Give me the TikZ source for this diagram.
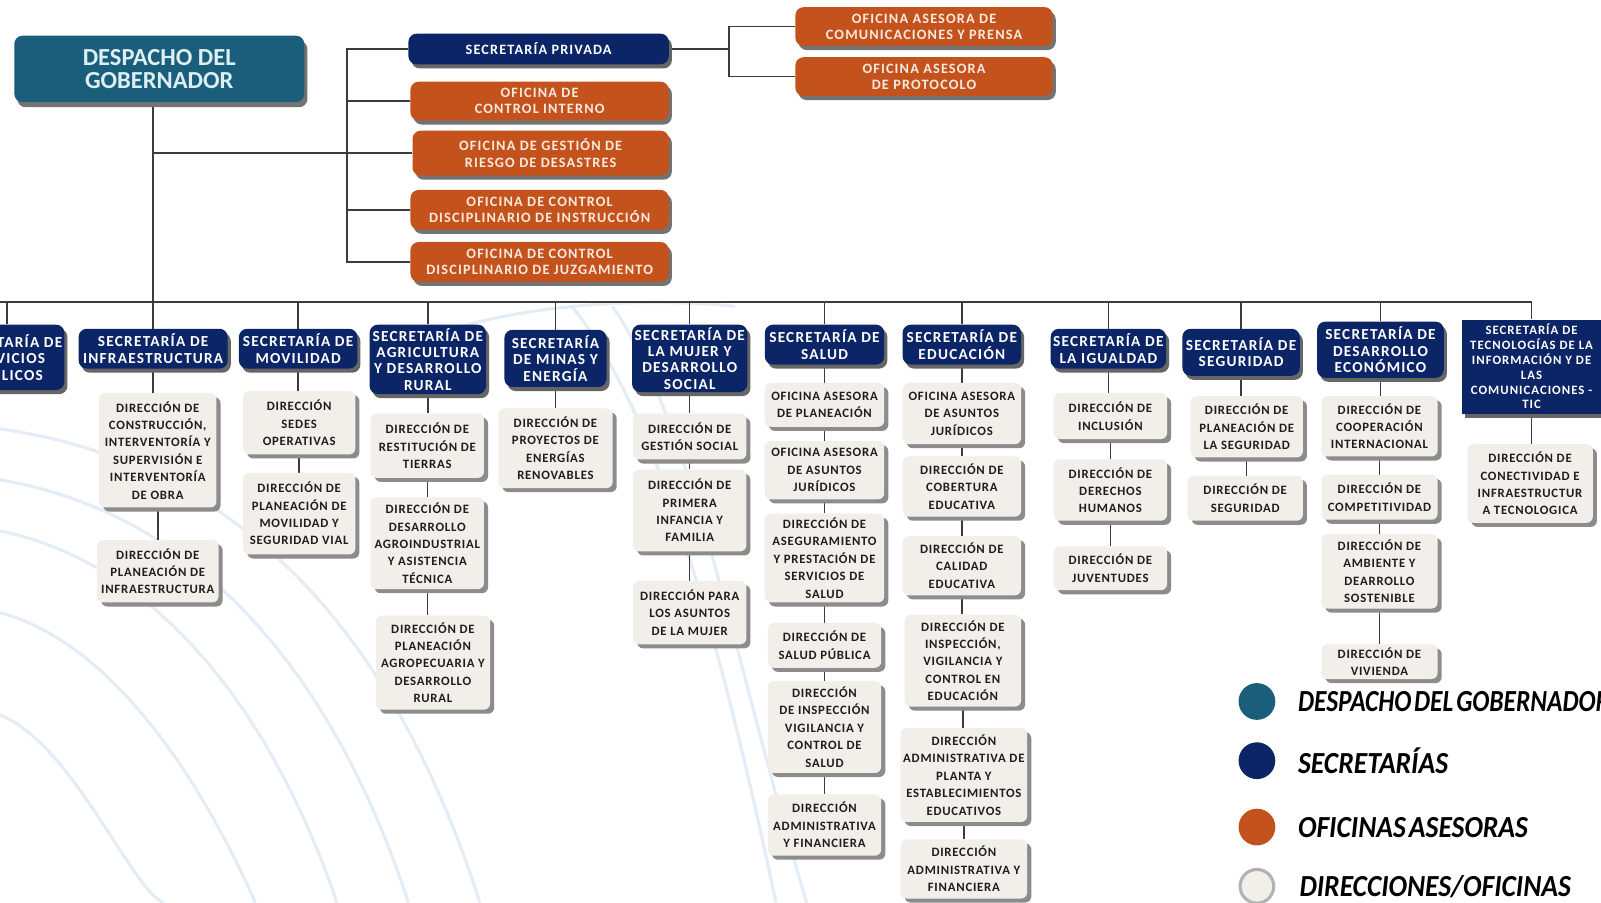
\documentclass[tikz,border=0pt]{standalone}
\usepackage{fontspec}
\setmainfont{Carlito}
\newfontfamily\boxfont{Carlito}[LetterSpace=8]
\newfontfamily\dirfont{Carlito}[LetterSpace=6]
\newfontfamily\legfont{Carlito}[FakeStretch=0.9,WordSpace=0.5]
\newfontfamily\legfontn{Carlito}[FakeStretch=0.83,WordSpace=0.5]
\usetikzlibrary{positioning,shadows,backgrounds}
\definecolor{despcol}{HTML}{1B5E7C}
\definecolor{desptext}{HTML}{DCEFF2}
\definecolor{seccol}{HTML}{0C2567}
\definecolor{oficol}{HTML}{C4521C}
\definecolor{ofitext}{HTML}{FBEADF}
\definecolor{dircol}{HTML}{F2EFEA}
\definecolor{dirtext}{HTML}{1E1E1E}
\definecolor{linecol}{HTML}{3C3C3C}
\definecolor{swirl}{HTML}{E4ECF5}
\begin{document}
\begin{tikzpicture}[x=1pt,y=-1pt,
  conn/.style={draw=linecol,line width=1.5pt},
  wh/.style 2 args={minimum width=#1pt,minimum height=#2pt},
  box/.style={rounded corners=6pt,align=center,inner sep=2pt},
  desp/.style={box,rounded corners=8pt,fill=despcol,text=desptext,
    font=\bfseries\fontsize{24}{22}\selectfont,
    drop shadow={shadow xshift=3pt,shadow yshift=-5pt,fill=black!55,opacity=1}},
  sec/.style={box,rounded corners=8pt,fill=seccol,text=white,
    font=\boxfont\bfseries\fontsize{15}{16}\selectfont,
    drop shadow={shadow xshift=3pt,shadow yshift=-4pt,fill=black!60,opacity=1}},
  ofi/.style={box,rounded corners=8pt,fill=oficol,text=ofitext,
    drop shadow={shadow xshift=3pt,shadow yshift=-4pt,fill=black!55,opacity=1}},
  topfont/.style={font=\boxfont\bfseries\fontsize{14}{16}\selectfont},
  dir/.style={box,fill=dircol,text=dirtext,
    font=\dirfont\bfseries\fontsize{12.5}{17}\selectfont,
    drop shadow={shadow xshift=4pt,shadow yshift=-4pt,fill=black!45,opacity=1}},
  legdot/.style={circle,minimum size=36pt,inner sep=0pt},
  legtext/.style={inner sep=0pt,anchor=west,text=black,
    font=\legfont\bfseries\itshape\fontsize{30}{30}\selectfont}]
\useasboundingbox (0,0) rectangle (1568,884);
\clip (0,0) rectangle (1568,884);

% despacho y oficinas
\node[desp,wh={284}{65}] (desp) at (156,67.5) {DESPACHO DEL\\GOBERNADOR};
\node[sec,topfont,wh={255}{30}] (spriv) at (527.5,48) {SECRETARÍA PRIVADA};
\node[ofi,topfont,wh={253}{38}] (cint) at (528.5,99) {OFICINA DE\\CONTROL INTERNO};
\node[ofi,topfont,wh={251}{44}] (gries) at (529.5,150) {OFICINA DE GESTIÓN DE\\RIESGO DE DESASTRES};
\node[ofi,topfont,wh={253}{39}] (dins) at (528.5,205.5) {OFICINA DE CONTROL\\DISCIPLINARIO DE INSTRUCCIÓN};
\node[ofi,topfont,wh={253}{39}] (djuz) at (528.5,256.5) {OFICINA DE CONTROL\\DISCIPLINARIO DE JUZGAMIENTO};
\node[ofi,topfont,wh={252}{38}] (cpren) at (905,26) {OFICINA ASESORA DE\\COMUNICACIONES Y PRENSA};
\node[ofi,topfont,wh={252}{38}] (proto) at (905,75) {OFICINA ASESORA\\DE PROTOCOLO};
\coordinate (brkL) at (340,0);
\coordinate (brkR) at (714,0);
\coordinate (busL) at (0,296);
\coordinate (busR) at (1500,296);

% secretarias
\node[sec,wh={112}{64}] (sps) at (7,350) {SECRETARÍA DE\\SERVICIOS\\PÚBLICOS};
\node[sec,wh={146}{39}] (inf) at (150,341.5) {SECRETARÍA DE\\INFRAESTRUCTURA};
\node[sec,wh={116}{39}] (mov) at (292,341.5) {SECRETARÍA DE\\MOVILIDAD};
\node[sec,wh={114}{68}] (agr) at (419,352) {SECRETARÍA DE\\AGRICULTURA\\Y DESARROLLO\\RURAL};
\node[sec,wh={100}{56}] (min) at (544,351) {SECRETARÍA\\DE MINAS Y\\ENERGÍA};
\node[sec,wh={113}{66}] (muj) at (675.5,351) {SECRETARÍA DE\\LA MUJER Y\\DESARROLLO\\SOCIAL};
\node[sec,wh={117}{39}] (sal) at (807.5,337.5) {SECRETARÍA DE\\SALUD};
\node[sec,wh={116}{39}] (edu) at (942,337.5) {SECRETARÍA DE\\EDUCACIÓN};
\node[sec,wh={113}{39}] (igu) at (1085.5,341.5) {SECRETARÍA DE\\LA IGUALDAD};
\node[sec,wh={115}{46}] (seg) at (1215.5,345) {SECRETARÍA DE\\SEGURIDAD};
\node[sec,wh={124}{55}] (eco) at (1352,342.5) {SECRETARÍA DE\\DESARROLLO\\ECONÓMICO};
\node[sec,sharp corners,wh={136}{92},font=\boxfont\bfseries\fontsize{12.5}{14.5}\selectfont] (tic) at (1500,359)
  {SECRETARÍA DE\\TECNOLOGÍAS DE LA\\INFORMACIÓN Y DE\\LAS\\COMUNICACIONES -\\TIC};

% direcciones
\node[dir,wh={115}{112}] (inf1) at (154.5,441) {DIRECCIÓN DE\\CONSTRUCCIÓN,\\INTERVENTORÍA Y\\SUPERVISIÓN E\\INTERVENTORÍA\\DE OBRA};
\node[dir,wh={119}{61}] (inf2) at (154.5,559.5) {DIRECCIÓN DE\\PLANEACIÓN DE\\INFRAESTRUCTURA};
\node[dir,wh={110}{62}] (mov1) at (293,414) {DIRECCIÓN\\SEDES\\OPERATIVAS};
\node[dir,wh={110}{80}] (mov2) at (293,503) {DIRECCIÓN DE\\PLANEACIÓN DE\\MOVILIDAD Y\\SEGURIDAD VIAL};
\node[dir,wh={111}{63}] (agr1) at (418.5,436.5) {DIRECCIÓN DE\\RESTITUCIÓN DE\\TIERRAS};
\node[dir,wh={111}{90}] (agr2) at (418.5,532) {DIRECCIÓN DE\\DESARROLLO\\AGROINDUSTRIAL\\Y ASISTENCIA\\TÉCNICA};
\node[dir,wh={112}{92}] (agr3) at (424,649) {DIRECCIÓN DE\\PLANEACIÓN\\AGROPECUARIA Y\\DESARROLLO\\RURAL};
\node[dir,wh={112}{78}] (min1) at (544,439) {DIRECCIÓN DE\\PROYECTOS DE\\ENERGÍAS\\RENOVABLES};
\node[dir,wh={111}{45}] (muj1) at (675.5,427.5) {DIRECCIÓN DE\\GESTIÓN SOCIAL};
\node[dir,wh={111}{80}] (muj2) at (675.5,500) {DIRECCIÓN DE\\PRIMERA\\INFANCIA Y\\FAMILIA};
\node[dir,wh={111}{62}] (muj3) at (675.5,600) {DIRECCIÓN PARA\\LOS ASUNTOS\\DE LA MUJER};
\node[dir,wh={117}{43}] (sal1) at (807.5,396.5) {OFICINA ASESORA\\DE PLANEACIÓN};
\node[dir,wh={117}{57}] (sal2) at (807.5,460.5) {OFICINA ASESORA\\DE ASUNTOS\\JURÍDICOS};
\node[dir,wh={117}{87}] (sal3) at (807.5,546.5) {DIRECCIÓN DE\\ASEGURAMIENTO\\Y PRESTACIÓN DE\\SERVICIOS DE\\SALUD};
\node[dir,wh={111}{44}] (sal4) at (807.5,632) {DIRECCIÓN DE\\SALUD PÚBLICA};
\node[dir,wh={111}{90}] (sal5) at (807.5,712) {DIRECCIÓN\\DE INSPECCIÓN\\VIGILANCIA Y\\CONTROL DE\\SALUD};
\node[dir,wh={111}{60}] (sal6) at (807.5,808) {DIRECCIÓN\\ADMINISTRATIVA\\Y FINANCIERA};
\node[dir,wh={116}{60}] (edu1) at (942,405) {OFICINA ASESORA\\DE ASUNTOS\\JURÍDICOS};
\node[dir,wh={116}{59}] (edu2) at (942,476.5) {DIRECCIÓN DE\\COBERTURA\\EDUCATIVA};
\node[dir,wh={116}{58}] (edu3) at (942,554) {DIRECCIÓN DE\\CALIDAD\\EDUCATIVA};
\node[dir,wh={114}{90}] (edu4) at (943,647) {DIRECCIÓN DE\\INSPECCIÓN,\\VIGILANCIA Y\\CONTROL EN\\EDUCACIÓN};
\node[dir,wh={124}{92}] (edu5) at (944,759) {DIRECCIÓN\\ADMINISTRATIVA DE\\PLANTA Y\\ESTABLECIMIENTOS\\EDUCATIVOS};
\node[dir,wh={124}{58}] (edu6) at (944,851) {DIRECCIÓN\\ADMINISTRATIVA Y\\FINANCIERA};
\node[dir,wh={111}{45}] (igu1) at (1087.5,407.5) {DIRECCIÓN DE\\INCLUSIÓN};
\node[dir,wh={111}{60}] (igu2) at (1087.5,480) {DIRECCIÓN DE\\DERECHOS\\HUMANOS};
\node[dir,wh={111}{43}] (igu3) at (1087.5,556.5) {DIRECCIÓN DE\\JUVENTUDES};
\node[dir,wh={110}{60}] (seg1) at (1221,418) {DIRECCIÓN DE\\PLANEACIÓN DE\\LA SEGURIDAD};
\node[dir,wh={113}{44}] (seg2) at (1219.5,488) {DIRECCIÓN DE\\SEGURIDAD};
\node[dir,wh={114}{59}] (eco1) at (1351,417.5) {DIRECCIÓN DE\\COOPERACIÓN\\INTERNACIONAL};
\node[dir,wh={114}{44}] (eco2) at (1351,487) {DIRECCIÓN DE\\COMPETITIVIDAD};
\node[dir,wh={114}{73}] (eco3) at (1351,559.5) {DIRECCIÓN DE\\AMBIENTE Y\\DEARROLLO\\SOSTENIBLE};
\node[dir,wh={114}{34}] (eco4) at (1351,648) {DIRECCIÓN DE\\VIVIENDA};
\node[dir,wh={123}{77}] (tic1) at (1498.5,473.5) {DIRECCIÓN DE\\CONECTIVIDAD E\\INFRAESTRUCTUR\\A TECNOLOGICA};

% leyenda
\node[legdot,fill=despcol] (ldesp) at (1231,687) {};
\node[legtext,right=22pt of ldesp,font=\legfontn\bfseries\itshape\fontsize{30}{30}\selectfont] (tdesp) {DESPACHO DEL GOBERNADOR};
\node[legdot,fill=seccol] (lsec) at (1231,745) {};
\node[legtext,right=22pt of lsec] (tsec) {SECRETARÍAS};
\node[legdot,fill=oficol] (lofi) at (1231,810) {};
\node[legtext,right=22pt of lofi] (tofi) {OFICINAS ASESORAS};
\node[legdot,fill=dircol,draw=black!30,line width=3pt,minimum size=33pt] (ldir) at (1231,868) {};
\node[legtext,right=23.5pt of ldir] (tdir) {DIRECCIONES/OFICINAS};

\begin{scope}[on background layer]
\fill[white] (0,0) rectangle (1568,884);
\foreach \a/\b in {420/470,470/400,520/330,600/250,700/160}
  \draw[swirl,line width=3pt] (0,\a) .. controls (\b*0.45,\a+30) and (\b*0.8,\a+170) .. (\b,884);
\draw[swirl,line width=3pt] (560,300) .. controls (640,400) and (700,600) .. (760,884);
\draw[swirl,line width=3pt] (600,300) .. controls (680,420) and (720,650) .. (790,884);
\draw[swirl,line width=3pt] (420,330) .. controls (500,300) and (620,290) .. (720,300);
% conectores
\draw[conn] (inf.north |- desp.south) -- (inf.north |- busL);
\draw[conn] (inf.north |- gries.west) -- (gries.west);
\draw[conn] (spriv.west) -- (spriv.west -| brkL) -- (djuz.west -| brkL) -- (djuz.west);
\foreach \n in {cint,gries,dins}
  \draw[conn] (\n.west) -- (\n.west -| brkL);
\draw[conn] (spriv.east) -- (spriv.east -| brkR);
\draw[conn] (cpren.west) -- (cpren.west -| brkR) -- (proto.west -| brkR) -- (proto.west);
\draw[conn] (busL) -- (busR);
\foreach \s in {sps,inf,mov,agr,min,muj,sal,edu,igu,seg,eco,tic}
  \draw[conn] (\s.north) -- (\s.north |- busL);
\foreach \a/\b in {inf/inf1,inf1/inf2,mov/mov1,mov1/mov2,agr/agr1,agr1/agr2,agr2/agr3,
    min/min1,muj/muj1,muj1/muj2,muj2/muj3,sal/sal1,sal1/sal2,sal2/sal3,sal3/sal4,sal4/sal5,sal5/sal6,
    edu/edu1,edu1/edu2,edu2/edu3,edu3/edu4,edu4/edu5,edu5/edu6,igu/igu1,igu1/igu2,igu2/igu3,
    seg/seg1,seg1/seg2,eco/eco1,eco1/eco2,eco2/eco3,eco3/eco4,tic/tic1}
  \draw[conn] (\a.south) -- (\a.south |- \b.north);
\end{scope}
\end{tikzpicture}
\end{document}
